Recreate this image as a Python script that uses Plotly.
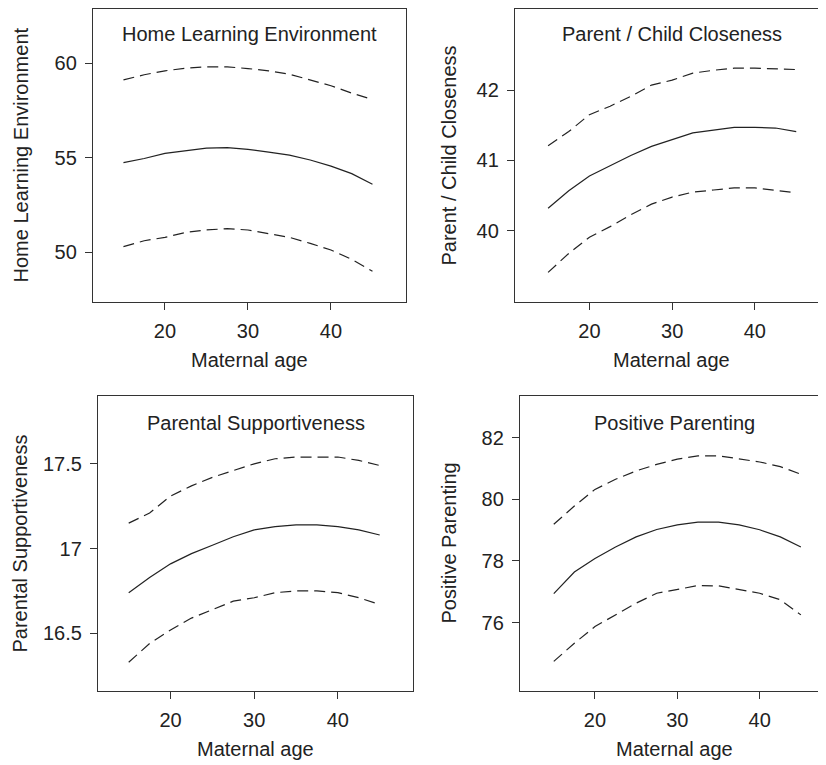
import plotly.graph_objects as go

# ---- data ----
age = [15, 17.5, 20, 22.5, 25, 27.5, 30, 32.5, 35, 37.5, 40, 42.5, 45]

hle_mid = [54.74, 54.96, 55.23, 55.39, 55.51, 55.54, 55.44, 55.30, 55.14, 54.88, 54.56, 54.16, 53.60]
hle_up  = [59.12, 59.39, 59.60, 59.74, 59.81, 59.81, 59.72, 59.60, 59.42, 59.12, 58.81, 58.42, 58.08]
hle_lo  = [50.30, 50.61, 50.79, 51.05, 51.18, 51.25, 51.18, 51.00, 50.79, 50.47, 50.12, 49.63, 49.00]

pcc_mid = [40.32, 40.57, 40.78, 40.93, 41.07, 41.20, 41.30, 41.39, 41.43, 41.47, 41.47, 41.46, 41.41]
pcc_up  = [41.21, 41.41, 41.65, 41.77, 41.91, 42.07, 42.14, 42.24, 42.28, 42.31, 42.31, 42.30, 42.29]
pcc_lo  = [39.41, 39.68, 39.91, 40.06, 40.23, 40.38, 40.48, 40.55, 40.58, 40.61, 40.61, 40.58, 40.54]

ps_mid = [16.74, 16.83, 16.91, 16.97, 17.02, 17.07, 17.11, 17.13, 17.14, 17.14, 17.13, 17.11, 17.08]
ps_up  = [17.15, 17.21, 17.31, 17.37, 17.42, 17.46, 17.50, 17.53, 17.54, 17.54, 17.54, 17.52, 17.49]
ps_lo  = [16.33, 16.44, 16.52, 16.59, 16.64, 16.69, 16.71, 16.74, 16.75, 16.75, 16.74, 16.71, 16.67]

pp_mid = [76.94, 77.64, 78.08, 78.45, 78.78, 79.02, 79.17, 79.26, 79.26, 79.17, 79.01, 78.78, 78.45]
pp_up  = [79.19, 79.78, 80.32, 80.65, 80.92, 81.13, 81.30, 81.41, 81.41, 81.32, 81.21, 81.06, 80.81]
pp_lo  = [74.74, 75.33, 75.87, 76.25, 76.63, 76.95, 77.08, 77.20, 77.19, 77.08, 76.95, 76.74, 76.25]

titles = ["Home Learning Environment", "Parent / Child Closeness",
          "Parental Supportiveness", "Positive Parenting"]
x_label = "Maternal age"
x_ticks = [20, 30, 40]
y_ticks = [[50, 55, 60], [40, 41, 42], [16.5, 17, 17.5], [76, 78, 80, 82]]
y_ticktext = [["50", "55", "60"], ["40", "41", "42"], ["16.5", "17", "17.5"], ["76", "78", "80", "82"]]

series = [(hle_mid, hle_up, hle_lo), (pcc_mid, pcc_up, pcc_lo),
          (ps_mid, ps_up, ps_lo), (pp_mid, pp_up, pp_lo)]

# ---- layout geometry (screen pixels of the 826x765 view) ----
OFF = 8                     # default page body margin
W, H = 826 - OFF, 765 - OFF  # figure size
boxes = [  # left, right, top, bottom in screen px
    (93, 406, 9, 302),
    (515, 828, 9, 302),
    (98, 413, 396, 691),
    (520, 828, 396, 691),
]
x_ranges = [[11.33, 49.04], [11.0, 48.6], [11.33, 48.98], [10.9, 48.05]]
y_ranges = [[47.37, 62.87], [38.99, 43.15], [16.16, 17.90], [73.78, 83.35]]
ytitle_x = [20, 448, 19, 448]
title_y = [34, 34, 423, 423]

FONT = "Liberation Sans, Arial, Helvetica, sans-serif"
TXT = "#222222"
LINE = "#222222"
FS = 20

def px(x):
    return min(max((x - OFF) / W, 0.0), 1.0)

def py(y):
    return min(max(1 - (y - OFF) / H, 0.0), 1.0)

fig = go.Figure()
annotations = []

for i, (mid, up, lo) in enumerate(series):
    n = "" if i == 0 else str(i + 1)
    xa, ya = "x" + n, "y" + n
    for vals, dash in ((up, "11px,6px"), (mid, "solid"), (lo, "11px,6px")):
        fig.add_trace(go.Scatter(x=age, y=vals, xaxis=xa, yaxis=ya, mode="lines",
                                 line=dict(color=LINE, width=1.2, dash=dash),
                                 showlegend=False, hoverinfo="skip"))
    l, r, t, b = boxes[i]
    common = dict(showline=True, mirror=True, linecolor="#333333", linewidth=1.3,
                  ticks="outside", ticklen=7, tickwidth=1.2, tickcolor="#333333",
                  showgrid=False, zeroline=False,
                  tickfont=dict(family=FONT, size=FS, color=TXT))
    fig.layout["xaxis" + n] = dict(domain=[px(l), px(r)], range=x_ranges[i],
                                   anchor=ya, tickvals=x_ticks, ticklabelstandoff=4, **common)
    fig.layout["yaxis" + n] = dict(domain=[py(b), py(t)], range=y_ranges[i],
                                   anchor=xa, tickvals=y_ticks[i], ticktext=y_ticktext[i],
                                   ticklabelstandoff=4, **common)
    annotations.append(dict(text=titles[i], xref="paper", yref="paper",
                            x=px((l + r) / 2), y=py(title_y[i]), xanchor="center", yanchor="middle",
                            showarrow=False, font=dict(family=FONT, size=FS, color=TXT)))
    annotations.append(dict(text=x_label, xref="paper", yref="paper",
                            x=px((l + r) / 2), y=py(b + 58), xanchor="center", yanchor="middle",
                            showarrow=False, font=dict(family=FONT, size=FS, color=TXT)))
    annotations.append(dict(text=titles[i], xref="paper", yref="paper", textangle=-90,
                            x=px(ytitle_x[i]), y=py((t + b) / 2), xanchor="center", yanchor="middle",
                            showarrow=False, font=dict(family=FONT, size=FS, color=TXT)))

fig.update_layout(width=W, height=H, margin=dict(l=0, r=0, t=0, b=0),
                  paper_bgcolor="white", plot_bgcolor="white",
                  annotations=annotations, showlegend=False)

fig.write_html("out.html")
